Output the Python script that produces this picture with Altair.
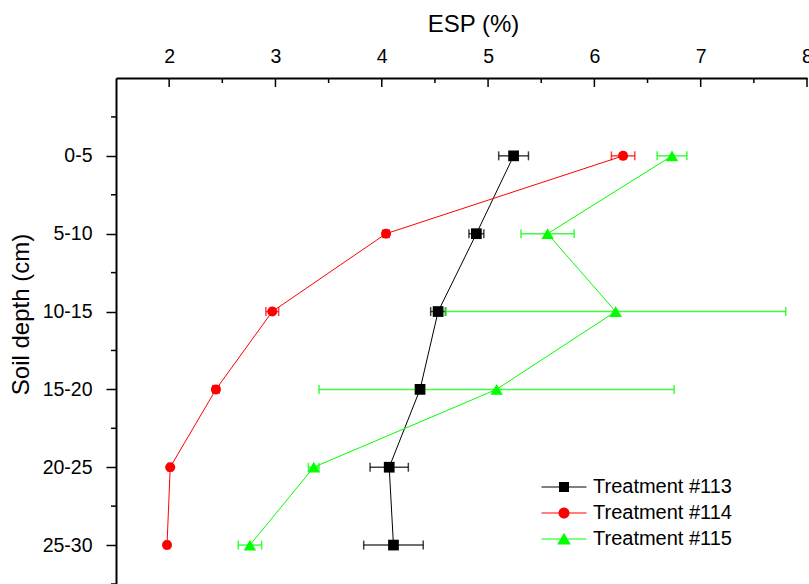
import altair as alt
import pandas as pd

# ---- data ----
depths = ["0-5", "5-10", "10-15", "15-20", "20-25", "25-30"]
treatments = ["Treatment #113", "Treatment #114", "Treatment #115"]
esp_113 = [5.24, 4.89, 4.53, 4.36, 4.07, 4.11]
err_113 = [0.14, 0.07, 0.07, 0.04, 0.18, 0.28]
esp_114 = [6.27, 4.04, 2.97, 2.44, 2.01, 1.98]
err_114 = [0.11, 0.03, 0.06, 0.03, 0.02, 0.02]
esp_115 = [6.73, 5.56, 6.20, 5.08, 3.36, 2.76]
err_115 = [0.14, 0.25, 1.60, 1.67, 0.05, 0.11]
x_major = [2, 3, 4, 5, 6, 7, 8]
x_minor = [2.5, 3.5, 4.5, 5.5, 6.5, 7.5]
y_minor = [0.5, 1.5, 2.5, 3.5, 4.5, 5.5, 6.5]
colors = ["#000000", "#FF0000", "#00FF00"]
shapes = ["square", "circle", "triangle-up"]
marker_sizes = [115, 100, 155]

FONT = "Liberation Sans"

rows = []
for t, vals, errs in zip(treatments, [esp_113, esp_114, esp_115], [err_113, err_114, err_115]):
    for i, (d, v, e) in enumerate(zip(depths, vals, errs)):
        rows.append({"treatment": t, "depth": d, "pos": i + 1, "esp": v,
                     "lo": v - e, "hi": v + e})
df = pd.DataFrame(rows)

xscale = alt.Scale(domain=[1.5, 8], nice=False, zero=False)
yscale = alt.Scale(domain=[0, 6.5], nice=False, zero=False, reverse=True)
cscale = alt.Scale(domain=treatments, range=colors)

label_expr = "[" + ",".join(["''"] + ["'%s'" % d for d in depths]) + "][datum.value]"

xaxis = alt.Axis(orient="top", values=x_major, format="d", ticks=False, tickSize=0, grid=False,
                 title="ESP (%)", titleFont=FONT, titleFontSize=24, titleFontWeight="normal",
                 titleColor="black", titleX=357, titleY=-47, titleBaseline="alphabetic",
                 labelFont=FONT, labelFontSize=19.5, labelColor="black", labelPadding=16,
                 labelBaseline="alphabetic", labelFlush=False, labelOverlap=False,
                 domainColor="black", domainWidth=2)
yaxis = alt.Axis(values=[1, 2, 3, 4, 5, 6], labelExpr=label_expr, grid=False,
                 tickSize=10, tickWidth=1.5, tickColor="black",
                 title="Soil depth (cm)", titleFont=FONT, titleFontSize=24,
                 titleFontWeight="normal", titleColor="black", titleX=-88, titleY=236,
                 titleBaseline="alphabetic", titleAngle=270,
                 labelFont=FONT, labelFontSize=19.5, labelColor="black", labelPadding=14,
                 labelFlush=False, labelOverlap=False,
                 domainColor="black", domainWidth=2)

# legend symbols: line - marker - line (all filled sub-paths), unit = 6.5 px
L = 3.46
seg = "M-%s,-0.08H-0.6V0.08H-%sZM0.6,-0.08H%sV0.08H0.6Z" % (L, L, L)
paths = [
    seg + "M-0.77,-0.77H0.77V0.77H-0.77Z",
    seg + "M-0.85,0A0.85,0.85,0,1,1,0.85,0A0.85,0.85,0,1,1,-0.85,0Z",
    seg + "M0,-0.95L1.05,0.85L-1.05,0.85Z",
]
pscale = alt.Scale(domain=treatments, range=paths)

legend = alt.Legend(orient="none", legendX=438, legendY=399, title=None,
                    labelFont=FONT, labelFontSize=20, labelColor="black",
                    labelOffset=19, symbolSize=169, symbolStrokeWidth=0,
                    symbolOpacity=1, rowPadding=6)

layers = []
X = alt.X("esp:Q", scale=xscale, axis=xaxis)
Y = alt.Y("pos:Q", scale=yscale, axis=yaxis)

# per-treatment layers with fixed colours (lines, error bars, markers)
for t, col in zip(treatments, colors):
    sub = alt.Chart(df).transform_filter(alt.datum.treatment == t)
    layers.append(sub.mark_line(strokeWidth=1, color=col).encode(x=X, y=Y, order="pos:Q"))
for t, col in zip(treatments, colors):
    sub = alt.Chart(df).transform_filter(alt.datum.treatment == t)
    layers.append(sub.mark_rule(strokeWidth=1.5, opacity=0.75, color=col).encode(
        x=alt.X("lo:Q", scale=xscale), x2="hi:Q", y=alt.Y("pos:Q", scale=yscale)))
    for end in ["lo", "hi"]:
        layers.append(sub.mark_tick(orient="vertical", size=9, thickness=1.5,
                                    opacity=0.75, color=col).encode(
            x=alt.X(end + ":Q", scale=xscale), y=alt.Y("pos:Q", scale=yscale)))
for t, col, shp, sz in zip(treatments, colors, shapes, marker_sizes):
    sub = alt.Chart(df).transform_filter(alt.datum.treatment == t)
    layers.append(sub.mark_point(filled=True, opacity=1, shape=shp, size=sz, color=col).encode(
        x=alt.X("esp:Q", scale=xscale), y=alt.Y("pos:Q", scale=yscale)))

# invisible layer that only carries the legend
layers.append(alt.Chart(df).mark_point(filled=True, opacity=0).encode(
    x=alt.X("esp:Q", scale=xscale),
    y=alt.Y("pos:Q", scale=yscale),
    color=alt.Color("treatment:N", scale=cscale, legend=legend),
    shape=alt.Shape("treatment:N", scale=pscale, legend=legend),
))

# inward ticks on the top axis, minor ticks on the left axis
layers.append(alt.Chart(pd.DataFrame({"esp": x_major})).mark_rule(color="black", strokeWidth=1.5).encode(
    x=alt.X("esp:Q", scale=xscale), y=alt.value(0), y2=alt.value(9)))
layers.append(alt.Chart(pd.DataFrame({"esp": x_minor})).mark_rule(color="black", strokeWidth=1.5).encode(
    x=alt.X("esp:Q", scale=xscale), y=alt.value(0), y2=alt.value(5)))
layers.append(alt.Chart(pd.DataFrame({"pos": y_minor})).mark_rule(color="black", strokeWidth=1.5).encode(
    y=alt.Y("pos:Q", scale=yscale), x=alt.value(-5), x2=alt.value(0)))

chart = alt.layer(*layers).properties(
    width=691, height=506,
    autosize=alt.AutoSizeParams(type="none"),
    padding={"left": 116, "top": 78, "right": 2, "bottom": 0},
    background="white",
).configure_view(strokeWidth=0)

chart.save("out.html", embed_options={"renderer": "svg", "actions": False})
